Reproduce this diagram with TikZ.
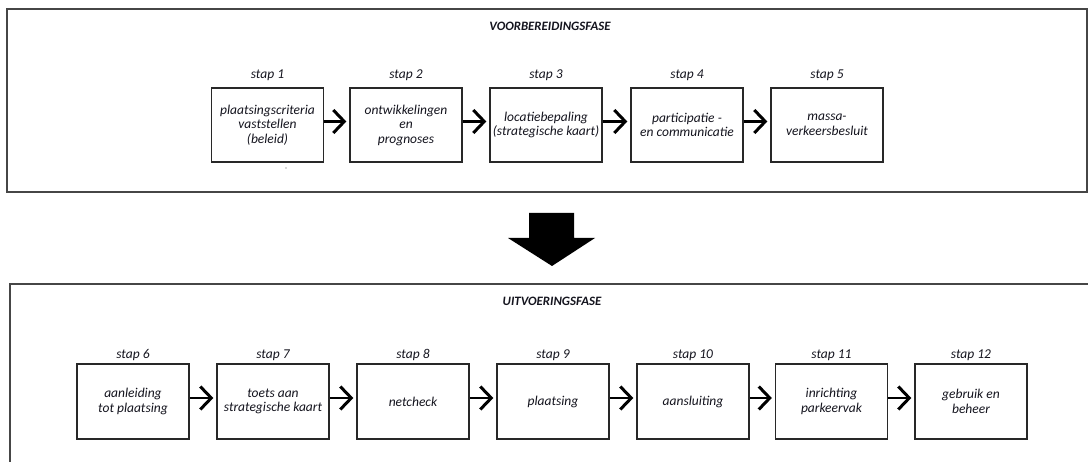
\documentclass[tikz,border=0pt]{standalone}
\usepackage{fontspec}
\setmainfont{Carlito}
\usetikzlibrary{arrows.meta}
\definecolor{framegray}{RGB}{70,70,70}
\definecolor{boxline}{RGB}{40,40,40}
\definecolor{txt}{RGB}{20,20,30}
\tikzset{
  stepbox/.style={draw=boxline, line width=1.3pt, minimum width=112pt, minimum height=74pt,
    inner sep=0pt, align=center, font=\fontsize{13.5}{14.5}\selectfont\itshape, text=txt},
  steplabel/.style={font=\fontsize{13.5}{14.5}\selectfont\itshape, text=txt, inner sep=0pt},
  phasetitle/.style={font=\fontsize{12.8}{14}\selectfont\bfseries\itshape, text=txt, inner sep=0pt},
  frame/.style={draw=framegray, line width=1.5pt},
  flow/.style={line width=2.2pt, black, shorten >=3pt,
    -{Straight Barb[length=11pt,width=23pt,line width=3pt]}}
}
\begin{document}
\begin{tikzpicture}[x=1pt,y=-1pt]
\useasboundingbox (0,0) rectangle (1088,462);
\clip (0,0) rectangle (1088,462);
\fill[white] (0,0) rectangle (1088,462);
% frames
\draw[frame] (7,9) rectangle (1087,192);
\draw[frame] (10,475) -- (10,284) -- (1100,284);
% titles
\node[phasetitle] (t1) at (550,26) {VOORBEREIDINGSFASE};
\node[phasetitle] (t2) at (552,301) {UITVOERINGSFASE};
% top row
\node[stepbox] (b1) at (267.5,125) {plaatsingscriteria\\vaststellen\\(beleid)};
\node[stepbox] (b2) at (406,125) {ontwikkelingen\\en\\prognoses};
\node[stepbox] (b3) at (546,125) {locatiebepaling\\(strategische kaart)};
\node[stepbox] (b4) at (687,125) {participatie -\\en communicatie};
\node[stepbox] (b5) at (827,125) {massa-\\verkeersbesluit};
\foreach \i in {1,...,5} {
  \node[steplabel] (l\i) at ([yshift=50pt]b\i.center) {stap \i};
}
\fill[gray!60] (286,168) circle (0.8pt);
% bottom row
\node[stepbox, minimum height=75pt] (b6) at (133,401.5) {aanleiding\\tot plaatsing};
\node[stepbox, minimum height=75pt] (b7) at (273,401.5) {toets aan\\strategische kaart};
\node[stepbox, minimum height=75pt] (b8) at (413,401.5) {netcheck};
\node[stepbox, minimum height=75pt] (b9) at (553,401.5) {plaatsing};
\node[stepbox, minimum height=75pt] (b10) at (693,401.5) {aansluiting};
\node[stepbox, minimum height=75pt] (b11) at (831.5,401.5) {inrichting\\parkeervak};
\node[stepbox, minimum height=75pt] (b12) at (971,401.5) {gebruik en\\beheer};
\foreach \i in {6,...,12} {
  \node[steplabel] (l\i) at ([yshift=46.5pt]b\i.center) {stap \i};
}
% flow arrows
\foreach \a/\b in {1/2,2/3,3/4,4/5,6/7,7/8,8/9,9/10,10/11,11/12} {
  \draw[flow] ([yshift=3.5pt]b\a.east) -- ([yshift=3.5pt]b\b.west);
}
% big down arrow
\fill[black] (529,213) -- (574,213) -- (574,238) -- (595,238) -- (552,266)
  -- (508,238) -- (529,238) -- cycle;
\end{tikzpicture}
\end{document}
